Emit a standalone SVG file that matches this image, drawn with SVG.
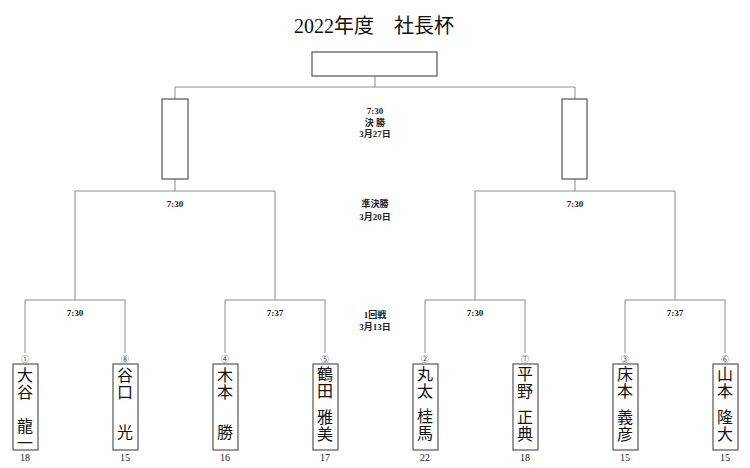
<svg xmlns="http://www.w3.org/2000/svg" width="750" height="468" viewBox="0 0 750 468">
<style>
.bg{fill:#ffffff}
.ln{stroke:#8c8c8c;stroke-width:1;fill:none}
.bx{stroke:#555555;stroke-width:1.2;fill:#ffffff}
.title{font-family:"Liberation Serif","Noto Sans CJK JP",serif;font-size:20px;fill:#111;text-anchor:middle}
.lbl{font-family:"Liberation Serif","Noto Sans CJK JP",serif;font-size:9px;fill:#222;text-anchor:middle;font-weight:bold}
.num{font-family:"Liberation Serif","Noto Sans CJK JP",serif;font-size:10px;fill:#222;text-anchor:middle}
.seed{font-family:"Noto Sans CJK JP",sans-serif;font-size:8px;fill:#333;text-anchor:middle}
.nm{font-family:"Noto Sans CJK JP",sans-serif;font-size:16px;fill:#111;writing-mode:vertical-rl;letter-spacing:1px}
</style>
<rect class="bg" x="0" y="0" width="750" height="468"/>
<text class="title" x="374" y="33">2022年度　社長杯</text>

<g id="connectors">
<path class="ln" d="M375 76V87M175 87H575M175 87V99M575 87V99"/>
<path class="ln" d="M175 179V191M75 191H275M75 191V300M275 191V300"/>
<path class="ln" d="M575 179V191M475 191H675M475 191V300M675 191V300"/>
<path class="ln" d="M25 300H125M225 300H325M425 300H525M625 300H725"/>
<path class="ln" d="M25 300V353M125 300V353M225 300V353M325 300V353M425 300V353M525 300V353M625 300V353M725 300V353"/>
</g>

<g id="labels">
<text class="lbl" x="375" y="114">7:30</text>
<text class="lbl" x="375" y="126">決 勝</text>
<text class="lbl" x="375" y="137">3月27日</text>
<text class="lbl" x="375" y="207">準決勝</text>
<text class="lbl" x="375" y="220">3月20日</text>
<text class="lbl" x="375" y="318">1回戦</text>
<text class="lbl" x="375" y="330">3月13日</text>
<text class="lbl" x="175" y="207">7:30</text>
<text class="lbl" x="575" y="207">7:30</text>
<text class="lbl" x="75" y="316">7:30</text>
<text class="lbl" x="275" y="316">7:37</text>
<text class="lbl" x="475" y="316">7:30</text>
<text class="lbl" x="675" y="316">7:37</text>
</g>

<g id="final"><rect class="bx" x="312" y="52" width="125" height="24"/></g>
<g id="semi-left"><rect class="bx" x="162" y="99" width="26" height="80"/></g>
<g id="semi-right"><rect class="bx" x="562" y="99" width="25" height="80"/></g>

<g id="p1">
<text class="seed" x="25" y="362">①</text>
<rect class="bx" x="13" y="364" width="25" height="86"/>
<text class="nm" x="25" y="367">大谷</text>
<text class="nm" x="25" y="418">龍一</text>
<text class="num" x="25" y="461">18</text>
</g>
<g id="p8">
<text class="seed" x="125" y="362">⑧</text>
<rect class="bx" x="113" y="364" width="25" height="86"/>
<text class="nm" x="125" y="367">谷口</text>
<text class="nm" x="125" y="424">光</text>
<text class="num" x="125" y="461">15</text>
</g>
<g id="p4">
<text class="seed" x="225" y="362">④</text>
<rect class="bx" x="213" y="364" width="25" height="86"/>
<text class="nm" x="225" y="367">木本</text>
<text class="nm" x="225" y="424">勝</text>
<text class="num" x="225" y="461">16</text>
</g>
<g id="p5">
<text class="seed" x="325" y="362">⑤</text>
<rect class="bx" x="313" y="364" width="25" height="86"/>
<text class="nm" x="325" y="366">鶴田</text>
<text class="nm" x="325" y="409">雅美</text>
<text class="num" x="325" y="461">17</text>
</g>
<g id="p2">
<text class="seed" x="425" y="362">②</text>
<rect class="bx" x="413" y="364" width="25" height="86"/>
<text class="nm" x="425" y="366">丸太</text>
<text class="nm" x="425" y="408">桂馬</text>
<text class="num" x="425" y="461">22</text>
</g>
<g id="p7">
<text class="seed" x="525" y="362">⑦</text>
<rect class="bx" x="513" y="364" width="25" height="86"/>
<text class="nm" x="525" y="366">平野</text>
<text class="nm" x="525" y="409">正典</text>
<text class="num" x="525" y="461">18</text>
</g>
<g id="p3">
<text class="seed" x="625" y="362">③</text>
<rect class="bx" x="613" y="364" width="25" height="86"/>
<text class="nm" x="625" y="366">床本</text>
<text class="nm" x="625" y="409">義彦</text>
<text class="num" x="625" y="461">15</text>
</g>
<g id="p6">
<text class="seed" x="725" y="362">⑥</text>
<rect class="bx" x="713" y="364" width="25" height="86"/>
<text class="nm" x="725" y="366">山本</text>
<text class="nm" x="725" y="409">隆大</text>
<text class="num" x="725" y="461">15</text>
</g>
</svg>
